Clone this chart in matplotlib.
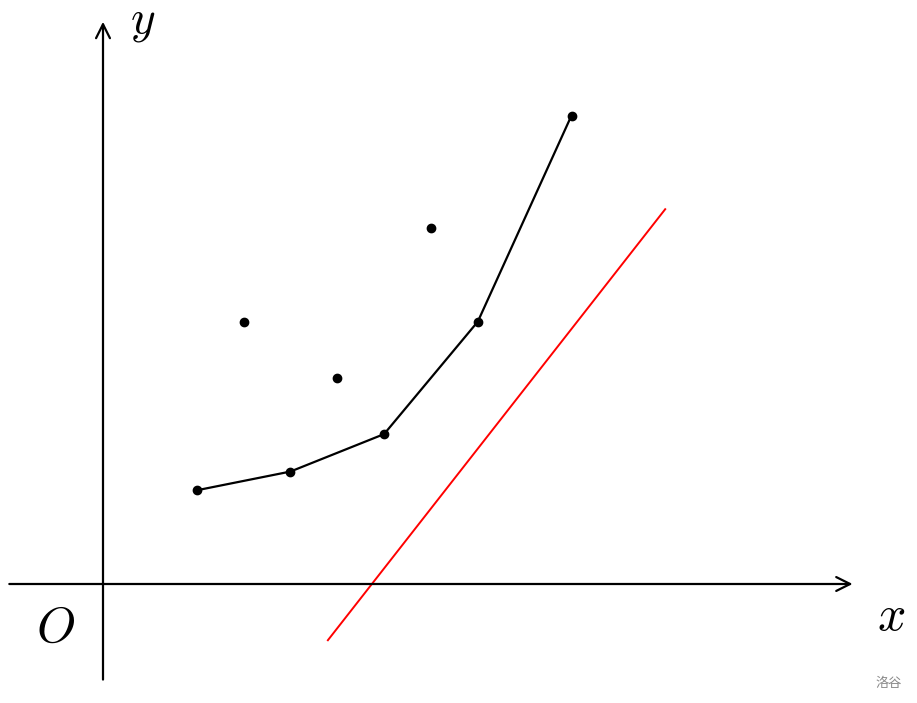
import matplotlib
matplotlib.use("Agg")
import matplotlib.pyplot as plt

plt.rcParams['mathtext.fontset'] = 'cm'

# connected points
line_x = [1, 2, 3, 4, 5]
line_y = [1.0, 1.2, 1.6, 2.8, 5.0]
# isolated points
pts_x = [1.5, 2.5, 3.5]
pts_y = [2.8, 2.2, 3.8]
# red line endpoints
red_x = [2.4, 6.0]
red_y = [-0.6, 4.0]

unit = 93.7
W, H = 917, 703
ox, oy = 103, 584

fig = plt.figure(figsize=(W / 100, H / 100), dpi=100)
ax = fig.add_axes([0, 0, 1, 1])
ax.set_xlim(-ox / unit, (W - ox) / unit)
ax.set_ylim(-(H - oy) / unit, oy / unit)
ax.axis('off')

# axes with arrows
ax.annotate('', xy=(8.0, 0), xytext=(-1.0, 0),
            arrowprops=dict(arrowstyle='->', lw=1.6, color='black',
                            mutation_scale=25, shrinkA=0, shrinkB=0))
ax.annotate('', xy=(0, 6.0), xytext=(0, -1.02),
            arrowprops=dict(arrowstyle='->', lw=1.6, color='black',
                            mutation_scale=25, shrinkA=0, shrinkB=0))

ax.plot(line_x, line_y, color='black', lw=1.6, marker='o', ms=6)
ax.plot(pts_x, pts_y, 'o', color='black', ms=6)
ax.plot(red_x, red_y, color='red', lw=1.4)

def label(px, py, s, size):
    ax.text(px, H - py, s, transform=None, fontsize=size,
            ha='center', va='center')

label(143, 22, r'$y$', 34)
label(891, 616, r'$x$', 36)
label(56, 628, r'$O$', 36)
ax.text(889, H - 683, '洛谷', transform=None, fontsize=9.5, color='#888888',
        ha='center', va='center', family=['Noto Sans CJK SC', 'DejaVu Sans'])

fig.savefig('out.png', dpi=100)
